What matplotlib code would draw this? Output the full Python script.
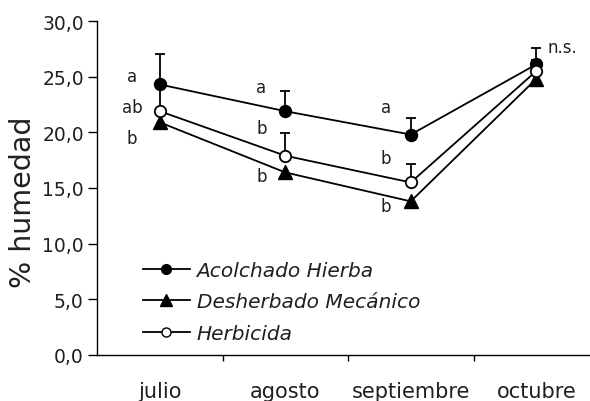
import matplotlib
matplotlib.use("Agg")
from matplotlib import pyplot as plt
from matplotlib.ticker import FixedLocator, FuncFormatter

meses = ['julio', 'agosto', 'septiembre', 'octubre']

acolchado = [24.3, 21.9, 19.8, 26.1]
acolchado_err = [2.7, 1.8, 1.5, 1.5]
desherbado = [20.9, 16.4, 13.8, 24.8]
herbicida = [21.9, 17.9, 15.5, 25.5]
herbicida_err = [2.3, 2.0, 1.7, 1.0]

# letras de significacion (julio, agosto, septiembre) y su altura
letras = [['a', 'ab', 'b'], ['a', 'b', 'b'], ['a', 'b', 'b']]
letras_y = [[25.1, 22.3, 19.5], [24.05, 20.4, 16.1], [22.3, 17.7, 13.4]]

plt.rcParams['font.family'] = ['DejaVu Sans']
plt.rcParams['text.color'] = '#231f20'
plt.rcParams['xtick.color'] = '#231f20'
plt.rcParams['ytick.color'] = '#231f20'
plt.rcParams['axes.labelcolor'] = '#231f20'

fig = plt.figure(figsize=(5.9, 4.02), dpi=100)
ax = fig.add_axes([97 / 590, 46 / 402, 502 / 590, 334 / 402])

x = list(range(len(meses)))
lw = 1.3

ax.plot(x, desherbado, color='black', lw=lw, marker='^', ms=10,
        mfc='black', mec='black', zorder=3, label='Desherbado Mecánico')
ax.errorbar(x, acolchado, yerr=[[0] * 4, acolchado_err], color='black', lw=lw,
            marker='o', ms=8.6, mfc='black', mec='black', capsize=3.8,
            capthick=lw, elinewidth=lw, zorder=4, label='Acolchado Hierba')
ax.errorbar(x, herbicida, yerr=[[0] * 4, herbicida_err], color='black', lw=lw,
            marker='o', ms=8.2, mfc='white', mec='black', mew=1.3, capsize=3.8,
            capthick=lw, elinewidth=lw, zorder=5, label='Herbicida')

dxs = [-0.22, -0.19, -0.2]
for i in range(3):
    for j in range(3):
        ax.text(i + dxs[i], letras_y[i][j], letras[i][j], ha='center',
                va='center', fontsize=12)
ax.text(3 + 0.088, acolchado[3] + acolchado_err[3] + 0.1, 'n.s.', ha='left',
        va='center', fontsize=12)

ax.set_xlim(-0.5, 3.5)
ax.set_ylim(0, 30)
ax.set_yticks([0, 5, 10, 15, 20, 25, 30])
ax.yaxis.set_major_formatter(FuncFormatter(lambda v, p: f'{v:.1f}'.replace('.', ',')))
ax.set_xticks(x)
ax.set_xticklabels(meses, fontsize=15)
ax.xaxis.set_minor_locator(FixedLocator([0.5, 1.5, 2.5]))
ax.tick_params(axis='x', which='major', length=0, pad=19)
ax.tick_params(axis='x', which='minor', length=4.5, width=1, color='black')
ax.tick_params(axis='y', length=6.5, width=1, labelsize=13.5, pad=3,
               color='black')
ax.set_ylabel('% humedad', fontsize=20.5)
ax.yaxis.set_label_coords(-0.119, 0.46)

for s in ['top', 'right']:
    ax.spines[s].set_visible(False)
for s in ['left', 'bottom']:
    ax.spines[s].set_linewidth(1)

# leyenda: solo linea y marcador
h_acol = plt.Line2D([], [], color='black', lw=lw, marker='o', ms=7, mfc='black')
h_desh = plt.Line2D([], [], color='black', lw=lw, marker='^', ms=8.5, mfc='black')
h_herb = plt.Line2D([], [], color='black', lw=lw, marker='o', ms=6.5, mfc='white')
ax.legend([h_acol, h_desh, h_herb],
          ['Acolchado Hierba', 'Desherbado Mecánico', 'Herbicida'],
          loc='lower left', bbox_to_anchor=(0.092, 0.036), frameon=False,
          borderpad=0, borderaxespad=0, handlelength=2.3, handletextpad=0.35,
          labelspacing=0.62, prop={'style': 'italic', 'size': 14.5})

fig.savefig('out.png', dpi=100)
